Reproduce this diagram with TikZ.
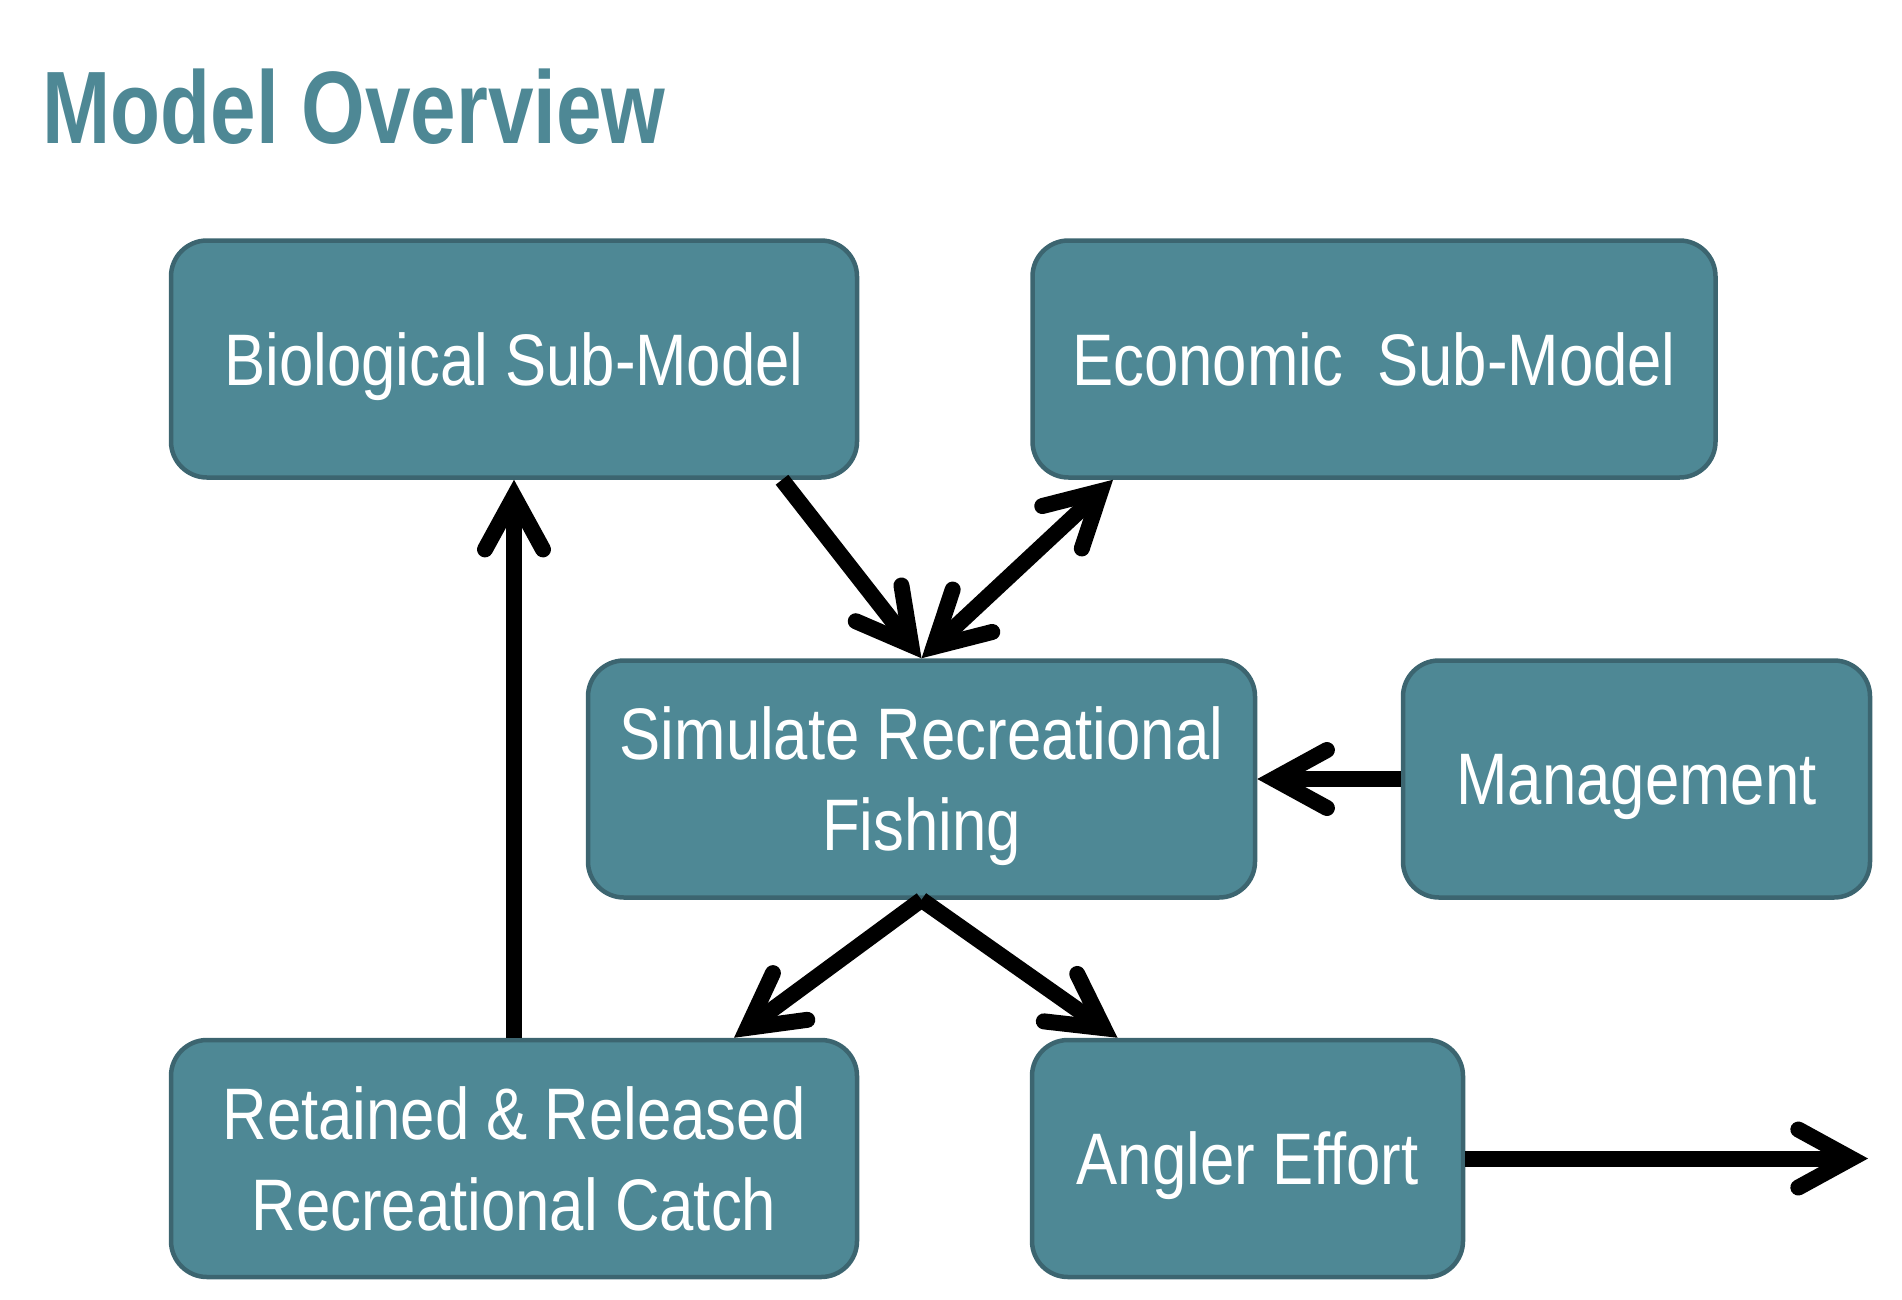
\documentclass[tikz,border=0pt]{standalone}
\usepackage{fontspec}
\usetikzlibrary{arrows.meta}
\newfontfamily\boxfont[FakeStretch=0.845]{Liberation Sans}
\newfontfamily\titlefont[FakeStretch=0.795]{Liberation Sans}
\definecolor{teal}{HTML}{4E8895}
\definecolor{tealdark}{HTML}{3C6570}
\begin{document}
\begin{tikzpicture}[x=1pt,y=-1pt]
        \tikzset{
            box/.style={draw=tealdark, fill=teal, line width=4.5pt,
              rounded corners=36pt, text=white, align=center,
              font=\boxfont\fontsize{73}{91}\selectfont, text depth=0pt,
              inner sep=0pt, minimum height=237pt},
            barb/.tip={Straight Barb[length=53pt,width=58pt,line cap=round,line join=miter]},
            flow/.style={line width=16pt, -barb},
            flows/.style={line width=16pt, barb-barb}
          }
        \useasboundingbox (0,0) rectangle (1902,1299);
        \node[anchor=base west, text=teal, inner sep=0pt,
              font=\titlefont\bfseries\fontsize{103}{120}\selectfont] (title) at (42,143) {Model Overview};
        \node[box, minimum width=686pt] (bio) at (514,359) {Biological Sub-Model};
        \node[box, minimum width=683pt] (econ) at (1374,359) {Economic\ \ Sub-Model};
        \node[box, minimum width=667pt] (sim) at (921.5,779) {Simulate Recreational\\Fishing};
        \node[box, minimum width=467pt] (mgmt) at (1636.5,779) {Management};
        \node[box, minimum width=686pt] (catch) at (514,1158.5) {Retained \& Released\\Recreational Catch};
        \node[box, minimum width=431pt] (effort) at (1247.5,1158.5) {Angler Effort};
        \coordinate (out) at (1868,1158.5);
        \draw[flow] ([xshift=268pt]bio.south) -- (sim.north);
        \draw[flows] ([xshift=-261pt]econ.south) -- (sim.north);
        \draw[flow] (mgmt.west) -- (sim.east);
        \draw[flow] (sim.south) -- ([xshift=220pt]catch.north);
        \draw[flow] (sim.south) -- ([xshift=-130pt]effort.north);
        \draw[flow] (catch.north) -- (bio.south);
        \draw[flow] (effort.east) -- (out);
    \end{tikzpicture}
\end{document}
